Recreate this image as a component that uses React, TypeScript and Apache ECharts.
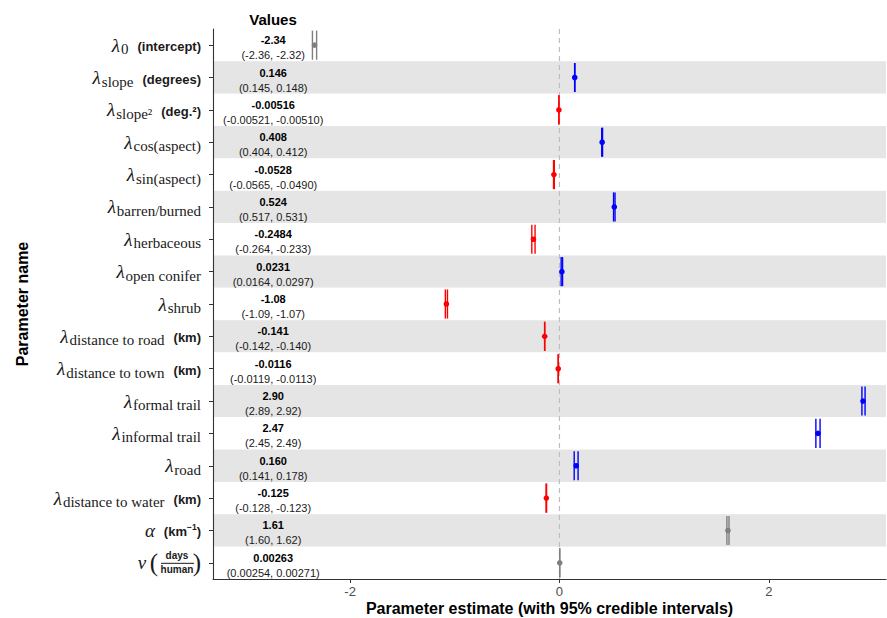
import React, { useEffect, useRef } from 'react';
import * as echarts from 'echarts';

// ---------- data ----------
const paramKeys = [
  'lambda0', 'slope', 'slope2', 'cosAspect', 'sinAspect', 'barrenBurned', 'herbaceous',
  'openConifer', 'shrub', 'distRoad', 'distTown', 'formalTrail', 'informalTrail', 'road',
  'distWater', 'alpha', 'nu',
];
const paramSymbols = ['λ', 'λ', 'λ', 'λ', 'λ', 'λ', 'λ', 'λ', 'λ', 'λ', 'λ', 'λ', 'λ', 'λ', 'λ', 'α', 'ν'];
const paramSubscripts = [
  '0', 'slope', 'slope²', 'cos(aspect)', 'sin(aspect)', 'barren/burned', 'herbaceous',
  'open conifer', 'shrub', 'distance to road', 'distance to town', 'formal trail',
  'informal trail', 'road', 'distance to water', '', '',
];
const paramUnits = [
  '(intercept)', '(degrees)', '(deg.²)', '', '', '', '', '', '', '(km)', '(km)', '', '', '',
  '(km)', '(km^-1)', 'days/human',
];
const estimateText = [
  '-2.34', '0.146', '-0.00516', '0.408', '-0.0528', '0.524', '-0.2484', '0.0231', '-1.08',
  '-0.141', '-0.0116', '2.90', '2.47', '0.160', '-0.125', '1.61', '0.00263',
];
const lowerText = [
  '-2.36', '0.145', '-0.00521', '0.404', '-0.0565', '0.517', '-0.264', '0.0164', '-1.09',
  '-0.142', '-0.0119', '2.89', '2.45', '0.141', '-0.128', '1.60', '0.00254',
];
const upperText = [
  '-2.32', '0.148', '-0.00510', '0.412', '-0.0490', '0.531', '-0.233', '0.0297', '-1.07',
  '-0.140', '-0.0113', '2.92', '2.49', '0.178', '-0.123', '1.62', '0.00271',
];
const isCovariate = [
  false, true, true, true, true, true, true, true, true, true, true, true, true, true, true,
  false, false,
];
const xTicks = [-2, 0, 2];
const referenceLineX = 0;

// ---------- style constants ----------
const RED = '#FF0000';
const BLUE = '#0000FF';
const GREY = '#7F7F7F';
const VALUE_COL_X = -2.735;
const X_MIN = -3.31;
const X_MAX = 3.12;
const SANS = '"Liberation Sans", Arial, sans-serif';
const SERIF = '"Liberation Serif", "Times New Roman", serif';

const estimates = estimateText.map(Number);
const lowers = lowerText.map(Number);
const uppers = upperText.map(Number);
const colors = estimates.map((v, i) => (!isCovariate[i] ? GREY : v < 0 ? RED : BLUE));

function labelFor(i: number): string {
  const sym = paramSymbols[i];
  const sub = paramSubscripts[i];
  const unit = paramUnits[i];
  if (sym === 'ν') return '';
  let s = `{lam|${sym}}`;
  if (sub) s += `{sub|${sub}}`;
  if (unit === '(km^-1)') {
    s += `{unitL|(km}{usup|−1}{unit|)}`;
  } else if (unit) {
    s += `{unitL|${unit}}`;
  }
  return s;
}

export default function App() {
  const ref = useRef<HTMLDivElement>(null);

  useEffect(() => {
    if (!ref.current) return;
    const chart = echarts.init(ref.current, undefined, { renderer: 'svg' });

    const barData = paramKeys.map((_, i) => [estimates[i], lowers[i], uppers[i], i]);
    const textData = paramKeys.map((_, i) => [VALUE_COL_X, i]);
    const nuIndex = paramSymbols.indexOf('ν');

    const option: any = {
      animation: false,
      backgroundColor: '#FFFFFF',
      grid: {
        left: 213,
        right: 1,
        top: 29,
        bottom: 39,
        containLabel: false,
        outerBoundsMode: 'none',
      },
      graphic: [
        {
          type: 'text',
          x: 273,
          y: 19,
          style: {
            text: 'Values',
            align: 'center',
            verticalAlign: 'middle',
            fontFamily: SANS,
            fontWeight: 'bold',
            fontSize: 15,
            fill: '#000',
          },
        },
      ],
      xAxis: {
        type: 'value',
        min: X_MIN,
        max: X_MAX,
        name: 'Parameter estimate (with 95% credible intervals)',
        nameLocation: 'middle',
        nameGap: 21,
        nameMoveOverlap: false,
        nameTextStyle: { fontFamily: SANS, fontWeight: 'bold', fontSize: 16, color: '#000' },
        axisLine: { show: true, onZero: false, lineStyle: { color: '#333', width: 1.1 } },
        axisTick: { show: true, customValues: xTicks, length: 4, lineStyle: { color: '#333' } },
        axisLabel: {
          customValues: xTicks,
          color: '#4D4D4D',
          fontFamily: SANS,
          fontSize: 13,
          margin: 6,
        },
        splitLine: { show: false },
      },
      yAxis: {
        type: 'category',
        inverse: true,
        data: paramKeys,
        name: 'Parameter name',
        nameLocation: 'middle',
        nameGap: 183,
        nameRotate: 90,
        nameMoveOverlap: false,
        nameTextStyle: { fontFamily: SANS, fontWeight: 'bold', fontSize: 16, color: '#000' },
        axisLine: { show: true, onZero: false, lineStyle: { color: '#333', width: 1.1 } },
        axisTick: { show: true, alignWithLabel: true, length: 4, lineStyle: { color: '#333' } },
        splitArea: { show: true, areaStyle: { color: ['#FFFFFF', '#E5E5E5'] } },
        splitLine: { show: false },
        axisLabel: {
          margin: 12,
          color: '#1a1a1a',
          formatter: (_v: string, idx: number) => labelFor(idx),
          rich: {
            lam: { fontFamily: SERIF, fontStyle: 'italic', fontSize: 19, color: '#1a1a1a' },
            sub: { fontFamily: SERIF, fontSize: 15, color: '#1a1a1a', padding: [8, 0, 0, 1] },
            unitL: {
              fontFamily: SANS,
              fontWeight: 'bold',
              fontSize: 13,
              color: '#1a1a1a',
              padding: [3, 0, 0, 9],
            },
            unit: {
              fontFamily: SANS,
              fontWeight: 'bold',
              fontSize: 13,
              color: '#1a1a1a',
              padding: [3, 0, 0, 0],
            },
            usup: {
              fontFamily: SANS,
              fontWeight: 'bold',
              fontSize: 8.5,
              color: '#1a1a1a',
              padding: [0, 0, 6, 0],
            },
          },
        },
      },
      series: [
        {
          name: 'zeroLine',
          type: 'custom',
          data: [[referenceLineX, 0]],
          encode: { x: 0, y: 1 },
          z: 1,
          renderItem: (params: any, api: any) => {
            const cs = params.coordSys;
            const x = api.coord([api.value(0), api.value(1)])[0];
            return {
              type: 'line',
              shape: { x1: x, y1: cs.y, x2: x, y2: cs.y + cs.height },
              style: { stroke: '#BEBEBE', lineWidth: 1.2, lineDash: [5, 4] },
            };
          },
        },
        {
          name: 'values',
          type: 'custom',
          data: textData,
          encode: { x: 0, y: 1 },
          z: 2,
          renderItem: (params: any, api: any) => {
            const i = params.dataIndex;
            const p = api.coord([api.value(0), api.value(1)]);
            return {
              type: 'group',
              children: [
                {
                  type: 'text',
                  x: p[0],
                  y: p[1] - 5,
                  style: {
                    text: estimateText[i],
                    align: 'center',
                    verticalAlign: 'middle',
                    fontFamily: SANS,
                    fontWeight: 'bold',
                    fontSize: 11,
                    fill: '#000',
                  },
                },
                {
                  type: 'text',
                  x: p[0],
                  y: p[1] + 10,
                  style: {
                    text: `(${lowerText[i]}, ${upperText[i]})`,
                    align: 'center',
                    verticalAlign: 'middle',
                    fontFamily: SANS,
                    fontSize: 11,
                    fill: '#1a1a1a',
                  },
                },
              ],
            };
          },
        },
        {
          name: 'estimates',
          type: 'custom',
          data: barData,
          encode: { x: [0, 1, 2], y: 3 },
          z: 3,
          renderItem: (params: any, api: any) => {
            const row = api.value(3);
            const c = colors[params.dataIndex];
            const est = api.coord([api.value(0), row]);
            const lo = api.coord([api.value(1), row]);
            const hi = api.coord([api.value(2), row]);
            const h = api.size([0, 1])[1] * 0.45;
            const st = { stroke: c, lineWidth: 1.4 };
            return {
              type: 'group',
              children: [
                { type: 'line', shape: { x1: lo[0], y1: lo[1], x2: hi[0], y2: hi[1] }, style: { stroke: c, lineWidth: 2 } },
                { type: 'line', shape: { x1: lo[0], y1: lo[1] - h, x2: lo[0], y2: lo[1] + h }, style: st },
                { type: 'line', shape: { x1: hi[0], y1: hi[1] - h, x2: hi[0], y2: hi[1] + h }, style: st },
                { type: 'circle', shape: { cx: est[0], cy: est[1], r: 2.8 }, style: { fill: c } },
              ],
            };
          },
        },
        {
          name: 'nuLabel',
          type: 'custom',
          data: [[X_MIN, nuIndex]],
          encode: { x: 0, y: 1 },
          z: 3,
          renderItem: (params: any, api: any) => {
            const p = api.coord([api.value(0), api.value(1)]);
            const ax = params.coordSys.x;
            const cy = p[1];
            const [num, den] = paramUnits[nuIndex].split('/');
            const bold = { fontFamily: SANS, fontWeight: 'bold', fontSize: 10, fill: '#1a1a1a', align: 'center', verticalAlign: 'middle' };
            const paren = { fontFamily: SERIF, fontSize: 25, fill: '#1a1a1a', align: 'center', verticalAlign: 'middle' };
            return {
              type: 'group',
              children: [
                { type: 'text', x: ax - 71, y: cy, style: { text: 'ν', fontFamily: SERIF, fontStyle: 'italic', fontSize: 19, fill: '#1a1a1a', align: 'center', verticalAlign: 'middle' } },
                { type: 'text', x: ax - 59, y: cy, style: { ...paren, text: '(' } },
                { type: 'text', x: ax - 16, y: cy, style: { ...paren, text: ')' } },
                { type: 'text', x: ax - 36, y: cy - 7, style: { ...bold, text: num } },
                { type: 'line', shape: { x1: ax - 52, y1: cy + 0.5, x2: ax - 19, y2: cy + 0.5 }, style: { stroke: '#1a1a1a', lineWidth: 1 } },
                { type: 'text', x: ax - 36, y: cy + 7, style: { ...bold, text: den } },
              ],
            };
          },
        },
      ],
    };

    chart.setOption(option);
    return () => chart.dispose();
  }, []);

  return (
    <div
      ref={ref}
      style={{ position: 'absolute', left: 0, top: 0, width: 887, height: 618, background: '#fff' }}
    />
  );
}
